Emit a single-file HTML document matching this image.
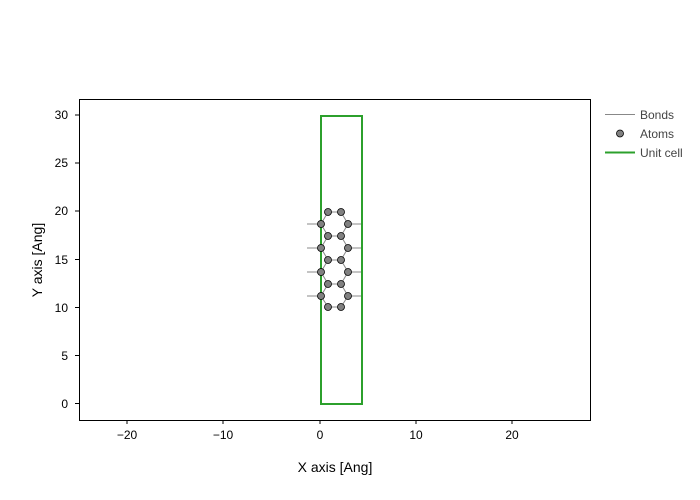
<!DOCTYPE html>
<html><head><style>body{margin:0;background:#fff}svg{display:block}text{font-family:"Liberation Sans",sans-serif;font-size:12px;fill:#000}</style></head><body>
<svg width="700" height="500" xmlns="http://www.w3.org/2000/svg">
<rect x="79.5" y="99.5" width="511" height="321" fill="none" stroke="#000" stroke-width="1"/>
<g stroke="#000">
<line x1="127" y1="420" x2="127" y2="424"/><line x1="223" y1="420" x2="223" y2="424"/><line x1="320" y1="420" x2="320" y2="424"/><line x1="416" y1="420" x2="416" y2="424"/><line x1="512" y1="420" x2="512" y2="424"/>
<line x1="75" y1="403.5" x2="79" y2="403.5"/><line x1="75" y1="355.5" x2="79" y2="355.5"/><line x1="75" y1="307.5" x2="79" y2="307.5"/><line x1="75" y1="259.5" x2="79" y2="259.5"/><line x1="75" y1="211" x2="79" y2="211"/><line x1="75" y1="163" x2="79" y2="163"/><line x1="75" y1="115" x2="79" y2="115"/>
</g>
<g text-anchor="middle"><text x="127" y="439">−20</text><text x="223" y="439">−10</text><text x="320" y="439">0</text><text x="416" y="439">10</text><text x="512" y="439">20</text></g>
<g text-anchor="end"><text x="68" y="408">0</text><text x="68" y="360">5</text><text x="68" y="312">10</text><text x="68" y="264">15</text><text x="68" y="215">20</text><text x="68" y="167">25</text><text x="68" y="119">30</text></g>
<text x="335" y="472" text-anchor="middle" style="font-size:14px">X axis [Ang]</text>
<text transform="translate(42,260) rotate(-90)" text-anchor="middle" style="font-size:14px">Y axis [Ang]</text>
<g stroke="#888" stroke-width="1" fill="none">
<path d="M328,212H341M328,236H341M328,260H341M328,284H341M328,307H341"/>
<path d="M328,212L321,224L328,236L321,248L328,260L321,272L328,284L321,296L328,307"/>
<path d="M341,212L348,224L341,236L348,248L341,260L348,272L341,284L348,296L341,307"/>
<path d="M307,224H321M307,248H321M307,272H321M307,296H321M348,224H362M348,248H362M348,272H362M348,296H362"/>
</g>
<rect x="321" y="116" width="41" height="288" fill="none" stroke="#2ca02c" stroke-width="2"/>
<g fill="#808080" stroke="#000" stroke-width="0.8">
<circle cx="328" cy="212" r="3.5"/><circle cx="341" cy="212" r="3.5"/>
<circle cx="321" cy="224" r="3.5"/><circle cx="348" cy="224" r="3.5"/>
<circle cx="328" cy="236" r="3.5"/><circle cx="341" cy="236" r="3.5"/>
<circle cx="321" cy="248" r="3.5"/><circle cx="348" cy="248" r="3.5"/>
<circle cx="328" cy="260" r="3.5"/><circle cx="341" cy="260" r="3.5"/>
<circle cx="321" cy="272" r="3.5"/><circle cx="348" cy="272" r="3.5"/>
<circle cx="328" cy="284" r="3.5"/><circle cx="341" cy="284" r="3.5"/>
<circle cx="321" cy="296" r="3.5"/><circle cx="348" cy="296" r="3.5"/>
<circle cx="328" cy="307" r="3.5"/><circle cx="341" cy="307" r="3.5"/>
</g>
<line x1="605" y1="114.5" x2="635" y2="114.5" stroke="#888"/>
<circle cx="620" cy="133.5" r="3.5" fill="#808080" stroke="#000" stroke-width="0.8"/>
<line x1="605" y1="152.5" x2="635" y2="152.5" stroke="#2ca02c" stroke-width="2"/>
<text x="640" y="119" style="fill:#444">Bonds</text><text x="640" y="138" style="fill:#444">Atoms</text><text x="640" y="157" style="fill:#444">Unit cell</text>
</svg></body></html>
